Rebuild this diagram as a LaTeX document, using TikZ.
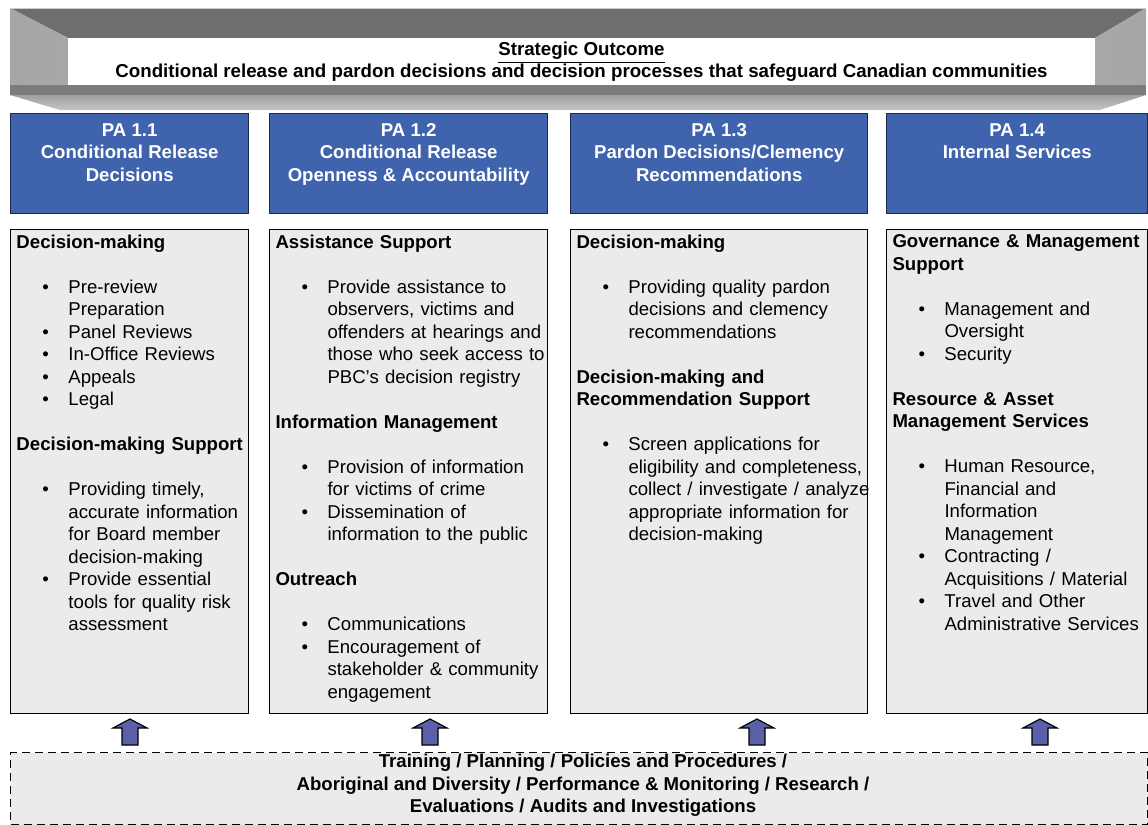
\documentclass[tikz,border=0pt]{standalone}
\usepackage{fontspec}
\setmainfont{Liberation Sans}
\usetikzlibrary{positioning}

\definecolor{pablue}{HTML}{3F63AD}
\definecolor{panavy}{HTML}{1C2A4A}
\definecolor{boxgray}{HTML}{EBEBEB}
\definecolor{arrowblue}{HTML}{5A60A8}
\definecolor{bandark}{HTML}{6E6E6E}
\definecolor{banside}{HTML}{A8A8A8}
\definecolor{banledge}{HTML}{7C7C7C}

\newcommand{\bhead}[1]{{\bfseries #1\par}\vskip\baselineskip}
\newcommand{\bitem}[1]{{\leftskip=26pt\noindent\hspace*{-13pt}\makebox[13pt][l]{\textbullet}#1\par}}
\newcommand{\bgap}{\vskip\baselineskip}

\begin{document}
\begin{tikzpicture}[
            x=0.5pt, y=-0.5pt,
            pahead/.style={rectangle, draw=panavy, line width=0.7pt, fill=pablue, minimum height=50pt, inner sep=0pt, anchor=north west},
            patitle/.style={text=white, font=\fontsize{9.3}{11.25}\selectfont\bfseries, align=center, inner sep=0pt},
            pabody/.style={rectangle, draw=black, line width=0.6pt, fill=boxgray, minimum height=242pt, inner sep=0pt},
            patext/.style={font=\fontsize{9.3}{11.25}\selectfont, align=left, inner sep=0pt},
            uparrow/.style={draw=black, line width=0.6pt, fill=arrowblue},
            ]
            \useasboundingbox (0,0) rectangle (1148,825);

            % strategic outcome banner
            \fill[bandark] (10,8) -- (1146,8) -- (1095,38) -- (68,38) -- cycle;
            \shade[left color=gray!70, right color=banside] (10,8) -- (68,38) -- (68,85) -- (10,85) -- cycle;
            \shade[left color=banside, right color=gray!70] (1146,8) -- (1095,38) -- (1095,85) -- (1146,85) -- cycle;
            \fill[banledge] (10,85) rectangle (1146,95);
            \shade[top color=gray!75, bottom color=gray!45] (10,95) -- (1146,95) -- (1100,110) -- (60,110) -- cycle;
            \draw[gray!40, line width=0.5pt] (10,8) -- (1146,8);
            \node[fill=white, minimum width=513.5pt, minimum height=23.5pt, inner sep=0pt, align=center,
                  font=\fontsize{9.35}{11}\selectfont\bfseries] (outcome) at (581.5,61.5)
                  {\underline{Strategic Outcome}\\Conditional release and pardon decisions and decision processes that safeguard Canadian communities};

            % program activity headers
            \node[pahead, minimum width=119pt]   (pa1) at (10,113) {};
            \node[pahead, minimum width=139pt]   (pa2) at (269,113) {};
            \node[pahead, minimum width=148.5pt] (pa3) at (570,113) {};
            \node[pahead, minimum width=130.5pt] (pa4) at (886,113) {};

            \node[patitle] (t1) [below=5pt of pa1.north] {PA 1.1\\Conditional Release\\Decisions};
            \node[patitle] (t2) [below=5pt of pa2.north] {PA 1.2\\Conditional Release\\Openness \& Accountability};
            \node[patitle] (t3) [below=5pt of pa3.north] {PA 1.3\\Pardon Decisions/Clemency\\Recommendations};
            \node[patitle] (t4) [below=5pt of pa4.north] {PA 1.4\\Internal Services};

            % activity boxes
            \node[pabody, minimum width=119pt]   (c1) [below=7.3pt of pa1] {};
            \node[pabody, minimum width=139pt]   (c2) [below=7.3pt of pa2] {};
            \node[pabody, minimum width=148.5pt] (c3) [below=7.3pt of pa3] {};
            \node[pabody, minimum width=130.5pt] (c4) [below=7.3pt of pa4] {};

            \node[patext, text width=116pt, anchor=north west] (l1) [below right=2.7pt and 3pt of c1.north west] {%
                \bhead{Decision-making}
                \bitem{Pre-review\newline Preparation}
                \bitem{Panel Reviews}
                \bitem{In-Office Reviews}
                \bitem{Appeals}
                \bitem{Legal}
                \bgap
                \bhead{Decision-making Support}
                \bitem{Providing timely,\newline accurate information\newline for Board member\newline decision-making}
                \bitem{Provide essential\newline tools for quality risk\newline assessment}};
            \node[patext, text width=136pt, anchor=north west] (l2) [below right=2.7pt and 3pt of c2.north west] {%
                \bhead{Assistance Support}
                \bitem{Provide assistance to\newline observers, victims and\newline offenders at hearings and\newline those who seek access to\newline PBC’s decision registry}
                \bgap
                \bhead{Information Management}
                \bitem{Provision of information\newline for victims of crime}
                \bitem{Dissemination of\newline information to the public}
                \bgap
                \bhead{Outreach}
                \bitem{Communications}
                \bitem{Encouragement of\newline stakeholder \& community\newline engagement}};
            \node[patext, text width=150pt, anchor=north west] (l3) [below right=2.7pt and 3pt of c3.north west] {%
                \bhead{Decision-making}
                \bitem{Providing quality pardon\newline decisions and clemency\newline recommendations}
                \bgap
                \bhead{Decision-making and\newline Recommendation Support}
                \bitem{Screen applications for\newline eligibility and completeness,\newline collect / investigate / analyze\newline appropriate information for\newline decision-making}};
            \node[patext, text width=128pt, anchor=north west] (l4) [below right=2.7pt and 3pt of c4.north west] {%
                \bhead{Governance \& Management\newline Support}
                \bitem{Management and\newline Oversight}
                \bitem{Security}
                \bgap
                \bhead{Resource \& Asset\newline Management Services}
                \bitem{Human Resource,\newline Financial and\newline Information\newline Management}
                \bitem{Contracting /\newline Acquisitions / Material}
                \bitem{Travel and Other\newline Administrative Services}};

            % enabling functions
            \node[rectangle, draw=black, dashed, dash pattern=on 4pt off 2.5pt, line width=0.6pt, fill=boxgray,
                  minimum width=568.5pt, minimum height=36pt, inner sep=0pt, anchor=north west] (base) at (10,752) {};
            \node[align=center, inner sep=0pt, font=\fontsize{9.3}{11.25}\selectfont\bfseries] (basetext) at (583,785.5)
                {Training / Planning / Policies and Procedures /\\Aboriginal and Diversity / Performance \& Monitoring / Research /\\Evaluations / Audits and Investigations};

            \foreach \ax in {130,430,757,1040}
                \draw[uparrow] (\ax-8,745) -- (\ax-8,728) -- (\ax-17,728) -- (\ax,719) -- (\ax+17,728) -- (\ax+8,728) -- (\ax+8,745) -- cycle;
        \end{tikzpicture}
\end{document}
